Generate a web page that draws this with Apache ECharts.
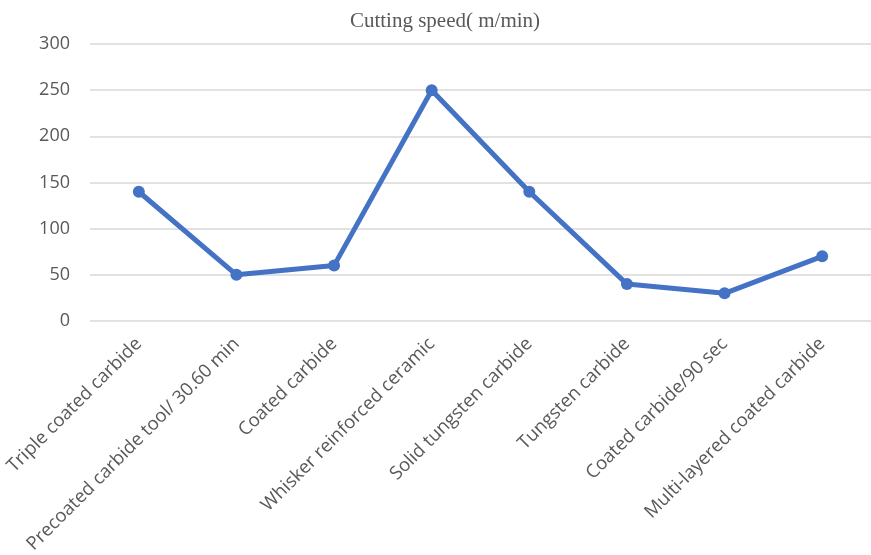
<!DOCTYPE html>
<html>
<head>
<meta charset="utf-8">
<script src="https://cdn.jsdelivr.net/npm/echarts@6/dist/echarts.min.js"></script>
<style>
  html, body { margin: 0; padding: 0; background: #fff; }
  #chart { width: 871px; height: 555px; }
</style>
</head>
<body>
<div id="chart"></div>
<script>
// Cutting speed by tool material
const categories = [
  'Triple coated carbide',
  'Precoated carbide tool/ 30.60 min',
  'Coated carbide',
  'Whisker reinforced ceramic',
  'Solid tungsten carbide',
  'Tungsten carbide',
  'Coated carbide/90 sec',
  'Multi-layered coated carbide'
];
const speeds = [140, 50, 60, 250, 140, 40, 30, 70];
const yTicks = [0, 50, 100, 150, 200, 250, 300];

const chart = echarts.init(document.getElementById('chart'));
chart.setOption({
  animation: false,
  title: {
    text: 'Cutting speed( m/min)',
    left: 440,
    textAlign: 'center',
    top: 6,
    textStyle: {
      fontFamily: 'Liberation Serif',
      fontWeight: 'normal',
      fontSize: 21,
      color: '#595959'
    }
  },
  grid: {
    left: 90, right: 0, top: 44, bottom: 234,
    containLabel: false,
    outerBoundsMode: 'none'
  },
  xAxis: {
    type: 'category',
    data: categories,
    boundaryGap: true,
    axisLine: { show: false },
    axisTick: { show: false },
    axisLabel: {
      rotate: 45,
      interval: 0,
      margin: 20,
      fontFamily: 'Open Sans',
      fontSize: 18.5,
      color: '#595959'
    }
  },
  yAxis: {
    type: 'value',
    min: yTicks[0],
    max: yTicks[yTicks.length - 1],
    interval: 50,
    axisLine: { show: false },
    axisTick: { show: false },
    axisLabel: {
      margin: 20,
      fontFamily: 'Open Sans',
      fontSize: 18,
      color: '#595959'
    },
    splitLine: { lineStyle: { color: '#d9d9d9', width: 1.5 } }
  },
  series: [{
    type: 'line',
    data: speeds,
    symbol: 'circle',
    symbolSize: 12,
    lineStyle: { color: '#4472C4', width: 5 },
    itemStyle: { color: '#4472C4' }
  }]
});
</script>
</body>
</html>
